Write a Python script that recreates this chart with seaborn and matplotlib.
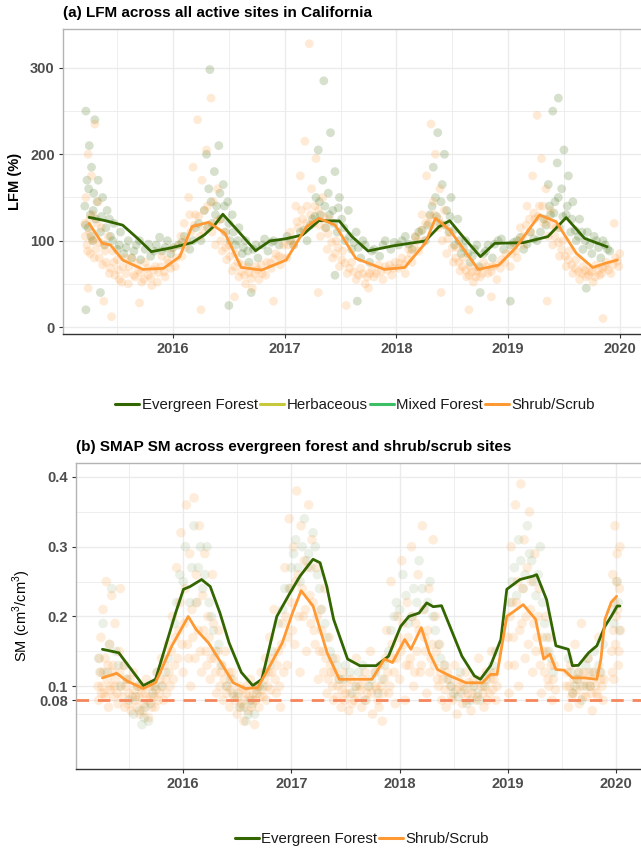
import numpy as np
import pandas as pd
import matplotlib
matplotlib.use("Agg")
import matplotlib.pyplot as plt
from matplotlib.lines import Line2D
from matplotlib.ticker import FixedLocator
import seaborn as sns

# ---------------- data ----------------
lfm_ticks = [0, 100, 200, 300]
year_ticks = [2016, 2017, 2018, 2019, 2020]
sm_ticks = [0.08, 0.1, 0.2, 0.3, 0.4]
sm_tick_labels = ["0.08", "0.1", "0.2", "0.3", "0.4"]
sm_threshold = 0.08

lfm_categories = ["Evergreen Forest", "Herbaceous", "Mixed Forest", "Shrub/Scrub"]
sm_categories = ["Evergreen Forest", "Shrub/Scrub"]

# smoothed LFM lines (panel a)
lfm_evergreen_t = [2015.249, 2015.40, 2015.549, 2015.68, 2015.806, 2015.99, 2016.17, 2016.28, 2016.36,
                   2016.446, 2016.574, 2016.739, 2016.867, 2017.0, 2017.159, 2017.306, 2017.489, 2017.60,
                   2017.746, 2017.965, 2018.258, 2018.38, 2018.477, 2018.60, 2018.752, 2018.88, 2019.136,
                   2019.356, 2019.44, 2019.52, 2019.685, 2019.886]
lfm_evergreen_v = [127, 123, 118, 103, 87.3, 91.9, 97.7, 106.6, 116, 130.6, 112.4, 88.4, 99.7, 102,
                   106.6, 123.2, 122.8, 105, 88.1, 93.9, 99.7, 116, 123.2, 104, 81.5, 96.9, 97.7,
                   104.7, 116, 126.7, 102.7, 93]
lfm_shrub_t = [2015.249, 2015.366, 2015.44, 2015.55, 2015.73, 2015.915, 2016.06, 2016.17, 2016.318,
               2016.465, 2016.61, 2016.794, 2017.013, 2017.196, 2017.306, 2017.452, 2017.636, 2017.892,
               2018.074, 2018.258, 2018.35, 2018.477, 2018.733, 2018.917, 2019.063, 2019.282, 2019.43,
               2019.611, 2019.758, 2019.868, 2019.978]
lfm_shrub_v = [120, 97, 95, 77.6, 66.8, 68, 81.5, 116.3, 121.3, 108.5, 69.1, 66, 77.6, 116.3, 125.9,
               118, 79.6, 66.8, 69, 97, 125.9, 112.4, 66.8, 71.8, 91, 129.8, 122, 85.4, 69, 73.8, 77.6]

# smoothed SMAP SM lines (panel b)
sm_evergreen_t = [2015.254, 2015.405, 2015.632, 2015.745, 2015.93, 2016.003, 2016.065, 2016.17, 2016.25,
                  2016.34, 2016.425, 2016.537, 2016.643, 2016.727, 2016.865, 2016.988, 2017.08, 2017.2,
                  2017.265, 2017.327, 2017.39, 2017.519, 2017.632, 2017.783, 2017.897, 2018.01, 2018.085,
                  2018.18, 2018.25, 2018.311, 2018.387, 2018.576, 2018.69, 2018.746, 2018.84, 2018.935,
                  2018.99, 2019.112, 2019.235, 2019.266, 2019.358, 2019.444, 2019.558, 2019.596, 2019.652,
                  2019.746, 2019.822, 2019.897, 2019.954, 2020.01, 2020.035]
sm_evergreen_v = [0.153, 0.148, 0.101, 0.110, 0.205, 0.239, 0.243, 0.253, 0.243, 0.205, 0.162, 0.120,
                  0.101, 0.110, 0.200, 0.234, 0.258, 0.282, 0.277, 0.243, 0.196, 0.139, 0.1295, 0.1295,
                  0.143, 0.186, 0.200, 0.205, 0.2195, 0.214, 0.2155, 0.143, 0.115, 0.110, 0.1295, 0.167,
                  0.239, 0.253, 0.258, 0.260, 0.224, 0.158, 0.153, 0.1295, 0.130, 0.148, 0.158, 0.186,
                  0.200, 0.215, 0.215]
sm_shrub_t = [2015.254, 2015.386, 2015.48, 2015.632, 2015.745, 2015.896, 2016.047, 2016.122, 2016.235,
              2016.349, 2016.462, 2016.575, 2016.689, 2016.8, 2016.915, 2017.01, 2017.09, 2017.2,
              2017.33, 2017.443, 2017.595, 2017.745, 2017.859, 2017.934, 2018.047, 2018.104, 2018.2,
              2018.274, 2018.35, 2018.463, 2018.613, 2018.765, 2018.84, 2018.90, 2018.99, 2019.142,
              2019.256, 2019.331, 2019.388, 2019.444, 2019.52, 2019.596, 2019.708, 2019.822, 2019.86,
              2019.897, 2019.954, 2020.005]
sm_shrub_v = [0.112, 0.1186, 0.1076, 0.0967, 0.1052, 0.158, 0.200, 0.181, 0.162, 0.134, 0.105, 0.0967,
              0.098, 0.129, 0.162, 0.205, 0.237, 0.215, 0.148, 0.110, 0.110, 0.110, 0.139, 0.134, 0.167,
              0.153, 0.184, 0.148, 0.124, 0.115, 0.105, 0.105, 0.117, 0.117, 0.200, 0.217, 0.196, 0.139,
              0.146, 0.124, 0.123, 0.112, 0.112, 0.110, 0.139, 0.196, 0.220, 0.229]

# individual site observations (panel a)
lfm_shrub_pts = [
    (2015.21,120),(2015.22,150),(2015.23,95),(2015.24,200),(2015.25,110),(2015.26,85),(2015.27,175),
    (2015.28,130),(2015.29,100),(2015.30,235),(2015.31,90),(2015.33,145),(2015.34,80),(2015.36,115),
    (2015.38,95),(2015.40,75),(2015.42,105),(2015.44,68),(2015.46,88),(2015.48,60),(2015.50,78),
    (2015.52,55),(2015.55,70),(2015.58,62),(2015.60,50),(2015.63,80),(2015.66,58),(2015.69,66),
    (2015.72,52),(2015.75,75),(2015.78,60),(2015.81,48),(2015.84,70),(2015.87,63),(2015.90,82),
    (2015.93,58),(2015.96,74),(2015.99,90),(2015.24,45),(2015.38,30),(2015.45,12),(2015.70,28),
    (2016.02,70),(2016.05,95),(2016.08,82),(2016.10,120),(2016.12,100),(2016.14,150),(2016.16,110),
    (2016.18,185),(2016.20,130),(2016.22,240),(2016.24,105),(2016.26,170),(2016.28,135),(2016.30,205),
    (2016.32,118),(2016.34,265),(2016.36,145),(2016.38,95),(2016.40,160),(2016.42,125),(2016.44,88),
    (2016.46,110),(2016.48,78),(2016.50,95),(2016.53,65),(2016.56,85),(2016.59,58),(2016.62,72),
    (2016.65,50),(2016.68,63),(2016.71,45),(2016.74,70),(2016.77,55),(2016.80,62),(2016.84,75),
    (2016.88,68),(2016.92,85),(2016.96,72),(2016.99,95),(2016.25,20),(2016.55,35),(2016.90,30),
    (2017.02,80),(2017.05,110),(2017.08,95),(2017.10,140),(2017.12,115),(2017.14,175),(2017.16,125),
    (2017.18,215),(2017.20,140),(2017.22,328),(2017.24,160),(2017.26,120),(2017.28,195),(2017.30,135),
    (2017.32,105),(2017.34,150),(2017.36,115),(2017.38,90),(2017.40,125),(2017.43,80),(2017.46,100),
    (2017.49,70),(2017.52,88),(2017.56,62),(2017.60,75),(2017.64,55),(2017.68,68),(2017.72,50),
    (2017.76,62),(2017.80,58),(2017.84,72),(2017.88,55),(2017.92,66),(2017.96,60),(2017.99,75),
    (2017.30,40),(2017.55,25),(2017.75,45),
    (2018.02,68),(2018.05,80),(2018.08,62),(2018.11,90),(2018.14,75),(2018.17,105),(2018.20,88),
    (2018.23,130),(2018.25,100),(2018.27,175),(2018.29,120),(2018.31,235),(2018.33,145),(2018.35,200),
    (2018.37,115),(2018.39,160),(2018.41,100),(2018.43,135),(2018.45,85),(2018.48,110),(2018.51,75),
    (2018.54,92),(2018.57,65),(2018.60,80),(2018.63,58),(2018.66,70),(2018.69,52),(2018.72,65),
    (2018.75,58),(2018.78,75),(2018.82,62),(2018.86,70),(2018.90,55),(2018.94,78),(2018.98,85),
    (2018.40,40),(2018.65,20),(2018.85,35),
    (2019.02,70),(2019.05,95),(2019.08,80),(2019.11,115),(2019.14,95),(2019.17,140),(2019.20,110),
    (2019.22,175),(2019.24,125),(2019.26,245),(2019.28,140),(2019.30,195),(2019.32,120),(2019.34,160),
    (2019.36,105),(2019.38,135),(2019.40,95),(2019.43,115),(2019.46,82),(2019.49,100),(2019.52,70),
    (2019.55,88),(2019.58,62),(2019.61,78),(2019.64,55),(2019.67,70),(2019.70,58),(2019.73,65),
    (2019.76,52),(2019.79,72),(2019.82,60),(2019.85,68),(2019.88,75),(2019.92,62),(2019.96,80),
    (2019.99,70),(2020.00,85),(2019.35,30),(2019.85,10),(2019.95,120),
]
lfm_shrub_band_pts = [
    (2015.215,105),(2015.235,88),(2015.255,125),(2015.275,102),(2015.295,80),(2015.32,120),(2015.345,98),
    (2015.37,72),(2015.39,88),(2015.43,62),(2015.47,75),(2015.51,66),(2015.54,52),(2015.57,80),
    (2015.61,70),(2015.65,60),(2015.68,74),(2015.71,63),(2015.74,55),(2015.77,68),(2015.80,57),
    (2015.83,66),(2015.86,52),(2015.89,70),(2015.92,64),(2015.95,78),(2015.98,68),
    (2016.03,80),(2016.07,105),(2016.11,92),(2016.15,130),(2016.19,118),(2016.23,128),(2016.27,112),
    (2016.31,140),(2016.35,110),(2016.39,122),(2016.43,100),(2016.47,92),(2016.51,82),(2016.55,70),
    (2016.58,75),(2016.61,64),(2016.64,60),(2016.67,70),(2016.70,56),(2016.73,62),(2016.76,66),
    (2016.79,72),(2016.83,60),(2016.87,74),(2016.91,78),(2016.95,82),(2016.98,80),
    (2017.03,95),(2017.07,100),(2017.11,122),(2017.15,135),(2017.19,120),(2017.23,130),(2017.27,140),
    (2017.31,118),(2017.35,128),(2017.39,108),(2017.42,98),(2017.45,85),(2017.48,92),(2017.51,78),
    (2017.54,74),(2017.58,68),(2017.62,64),(2017.66,60),(2017.70,62),(2017.74,58),(2017.78,66),
    (2017.82,62),(2017.86,64),(2017.90,70),(2017.94,72),(2017.97,68),
    (2018.03,74),(2018.07,72),(2018.10,78),(2018.13,85),(2018.16,92),(2018.19,100),(2018.22,112),
    (2018.26,120),(2018.30,128),(2018.34,130),(2018.38,125),(2018.42,118),(2018.46,102),(2018.50,92),
    (2018.53,80),(2018.56,75),(2018.59,70),(2018.62,66),(2018.65,60),(2018.68,64),(2018.71,58),
    (2018.74,68),(2018.77,62),(2018.81,70),(2018.85,64),(2018.89,72),(2018.93,68),(2018.97,75),
    (2019.03,85),(2019.07,88),(2019.10,100),(2019.13,105),(2019.16,118),(2019.19,125),(2019.23,132),
    (2019.27,128),(2019.31,140),(2019.35,125),(2019.39,118),(2019.42,105),(2019.45,98),(2019.48,90),
    (2019.51,82),(2019.54,78),(2019.57,72),(2019.60,68),(2019.63,64),(2019.66,62),(2019.69,66),
    (2019.72,60),(2019.75,64),(2019.78,58),(2019.81,66),(2019.84,62),(2019.87,70),(2019.90,66),
    (2019.94,72),(2019.98,76),
]
lfm_evergreen_pts = [
    (2015.21,140),(2015.22,250),(2015.23,170),(2015.24,115),(2015.25,210),(2015.26,130),(2015.27,185),
    (2015.28,100),(2015.29,155),(2015.30,240),(2015.31,125),(2015.33,170),(2015.35,110),(2015.37,150),
    (2015.39,95),(2015.41,135),(2015.44,105),(2015.47,120),(2015.50,90),(2015.53,110),(2015.56,85),
    (2015.60,100),(2015.63,80),(2015.67,95),(2015.71,78),(2015.75,90),(2015.80,82),(2015.85,95),
    (2015.90,88),(2015.95,100),(2016.00,92),(2015.22,20),(2015.35,40),
    (2016.05,95),(2016.10,105),(2016.15,90),(2016.20,115),(2016.25,100),(2016.28,135),(2016.30,200),
    (2016.32,160),(2016.33,298),(2016.35,120),(2016.37,180),(2016.39,140),(2016.41,210),(2016.43,125),
    (2016.45,165),(2016.47,110),(2016.49,145),(2016.51,100),(2016.53,130),(2016.56,95),(2016.59,115),
    (2016.62,85),(2016.65,100),(2016.68,75),(2016.72,90),(2016.76,80),(2016.80,95),(2016.85,88),
    (2016.90,100),(2016.95,95),(2016.70,40),(2016.50,25),
    (2017.02,105),(2017.08,95),(2017.14,110),(2017.20,100),(2017.25,125),(2017.28,150),(2017.30,205),
    (2017.32,130),(2017.34,170),(2017.35,285),(2017.37,115),(2017.39,155),(2017.41,225),(2017.43,135),
    (2017.45,180),(2017.47,110),(2017.49,150),(2017.51,125),(2017.54,100),(2017.57,135),(2017.60,90),
    (2017.64,110),(2017.68,80),(2017.72,95),(2017.76,75),(2017.80,90),(2017.85,82),(2017.90,100),
    (2017.95,90),(2017.65,30),(2017.45,60),
    (2018.02,95),(2018.08,105),(2018.14,90),(2018.20,110),(2018.26,100),(2018.30,130),(2018.33,185),
    (2018.35,150),(2018.37,225),(2018.39,120),(2018.41,165),(2018.43,200),(2018.45,135),(2018.47,110),
    (2018.49,150),(2018.52,95),(2018.55,125),(2018.58,85),(2018.62,100),(2018.66,75),(2018.70,90),
    (2018.74,70),(2018.78,85),(2018.82,95),(2018.86,80),(2018.91,100),(2018.96,90),(2018.75,40),
    (2019.02,30),
    (2019.02,95),(2019.08,100),(2019.14,90),(2019.20,110),(2019.26,100),(2019.32,125),(2019.36,165),
    (2019.38,130),(2019.40,250),(2019.42,145),(2019.44,190),(2019.46,115),(2019.48,160),(2019.50,205),
    (2019.52,130),(2019.54,175),(2019.56,110),(2019.58,145),(2019.61,100),(2019.64,125),(2019.67,90),
    (2019.71,110),(2019.75,85),(2019.79,100),(2019.83,80),(2019.87,95),(2019.91,88),(2019.45,265),
    (2019.70,45),
]
lfm_evergreen_band_pts = [
    (2015.215,118),(2015.245,160),(2015.265,105),(2015.285,135),(2015.32,145),(2015.36,128),(2015.40,115),
    (2015.43,125),(2015.46,100),(2015.52,95),(2015.58,92),(2015.65,88),(2015.70,100),(2015.78,96),
    (2015.83,88),(2015.88,104),(2015.93,92),(2015.98,85),
    (2016.08,98),(2016.18,100),(2016.23,120),(2016.31,115),(2016.34,145),(2016.38,130),(2016.42,155),
    (2016.46,140),(2016.50,120),(2016.54,110),(2016.58,100),(2016.63,92),(2016.67,88),(2016.74,95),
    (2016.82,102),(2016.88,98),
    (2017.05,100),(2017.17,112),(2017.23,118),(2017.27,128),(2017.31,145),(2017.36,140),(2017.40,130),
    (2017.44,120),(2017.48,138),(2017.53,115),(2017.58,105),(2017.62,98),(2017.66,92),(2017.70,100),
    (2017.78,88),(2017.88,95),(2017.98,98),
    (2018.05,100),(2018.11,96),(2018.17,104),(2018.23,112),(2018.28,118),(2018.32,140),(2018.36,128),
    (2018.40,145),(2018.44,118),(2018.48,128),(2018.51,112),(2018.56,100),(2018.60,92),(2018.64,85),
    (2018.68,82),(2018.72,95),(2018.80,88),(2018.88,96),(2018.94,102),
    (2019.05,98),(2019.11,104),(2019.17,96),(2019.23,102),(2019.29,110),(2019.34,118),(2019.37,140),
    (2019.41,132),(2019.45,150),(2019.49,128),(2019.53,140),(2019.57,125),(2019.60,112),(2019.63,105),
    (2019.66,110),(2019.69,100),(2019.73,95),(2019.77,105),(2019.81,92),(2019.85,100),(2019.89,90),
]

# individual site observations (panel b)
sm_shrub_pts = [
    (2015.22,0.08),(2015.23,0.12),(2015.24,0.17),(2015.25,0.10),(2015.26,0.21),(2015.27,0.09),
    (2015.28,0.14),(2015.29,0.25),(2015.30,0.11),(2015.31,0.07),(2015.32,0.16),(2015.33,0.10),
    (2015.34,0.23),(2015.35,0.13),(2015.36,0.085),(2015.37,0.19),(2015.38,0.11),(2015.40,0.075),
    (2015.41,0.15),(2015.42,0.24),(2015.43,0.10),(2015.45,0.13),(2015.46,0.07),(2015.48,0.11),
    (2015.50,0.09),(2015.52,0.065),(2015.54,0.12),(2015.56,0.08),(2015.58,0.10),(2015.60,0.06),
    (2015.62,0.09),(2015.64,0.075),(2015.66,0.11),(2015.68,0.055),(2015.70,0.085),(2015.72,0.10),
    (2015.74,0.07),(2015.76,0.12),(2015.78,0.09),(2015.80,0.14),(2015.82,0.08),(2015.84,0.11),
    (2015.86,0.16),(2015.88,0.10),(2015.90,0.20),(2015.92,0.13),(2015.94,0.27),(2015.96,0.18),
    (2015.98,0.32),
    (2016.00,0.12),(2016.02,0.24),(2016.03,0.36),(2016.04,0.16),(2016.06,0.29),(2016.07,0.10),
    (2016.08,0.21),(2016.10,0.37),(2016.11,0.14),(2016.12,0.26),(2016.14,0.18),(2016.15,0.33),
    (2016.17,0.12),(2016.18,0.23),(2016.20,0.29),(2016.21,0.15),(2016.23,0.20),(2016.25,0.11),
    (2016.27,0.26),(2016.29,0.14),(2016.31,0.09),(2016.33,0.18),(2016.35,0.12),(2016.37,0.08),
    (2016.39,0.15),(2016.41,0.10),(2016.43,0.07),(2016.45,0.12),(2016.47,0.085),(2016.50,0.06),
    (2016.52,0.10),(2016.54,0.075),(2016.56,0.05),(2016.58,0.09),(2016.60,0.065),(2016.62,0.11),
    (2016.64,0.08),(2016.66,0.045),(2016.68,0.095),(2016.70,0.07),(2016.72,0.12),(2016.74,0.085),
    (2016.76,0.14),(2016.78,0.10),(2016.80,0.17),(2016.82,0.12),(2016.84,0.21),(2016.86,0.09),
    (2016.88,0.15),(2016.90,0.07),(2016.92,0.19),(2016.94,0.27),(2016.96,0.13),(2016.98,0.34),
    (2017.00,0.22),(2017.02,0.30),(2017.03,0.16),(2017.05,0.38),(2017.06,0.26),(2017.08,0.12),
    (2017.09,0.33),(2017.11,0.20),(2017.12,0.28),(2017.14,0.15),(2017.16,0.36),(2017.17,0.23),
    (2017.19,0.31),(2017.21,0.18),(2017.23,0.27),(2017.25,0.11),(2017.27,0.21),(2017.29,0.15),
    (2017.31,0.24),(2017.33,0.09),(2017.35,0.17),(2017.37,0.12),(2017.39,0.08),(2017.41,0.14),
    (2017.43,0.10),(2017.46,0.07),(2017.48,0.12),(2017.50,0.09),(2017.53,0.065),(2017.55,0.11),
    (2017.58,0.08),(2017.60,0.14),(2017.63,0.10),(2017.65,0.07),(2017.68,0.12),(2017.70,0.09),
    (2017.73,0.15),(2017.75,0.06),(2017.78,0.10),(2017.80,0.08),(2017.82,0.13),(2017.84,0.05),
    (2017.86,0.11),(2017.88,0.18),(2017.90,0.09),(2017.92,0.25),(2017.94,0.14),(2017.96,0.075),
    (2017.98,0.20),
    (2018.00,0.11),(2018.02,0.28),(2018.04,0.16),(2018.05,0.08),(2018.07,0.22),(2018.09,0.13),
    (2018.11,0.30),(2018.13,0.10),(2018.15,0.19),(2018.17,0.26),(2018.19,0.12),(2018.21,0.33),
    (2018.23,0.17),(2018.25,0.09),(2018.27,0.24),(2018.29,0.14),(2018.31,0.31),(2018.33,0.20),
    (2018.35,0.11),(2018.37,0.16),(2018.39,0.08),(2018.41,0.13),(2018.43,0.07),(2018.46,0.11),
    (2018.48,0.085),(2018.51,0.13),(2018.53,0.06),(2018.56,0.10),(2018.58,0.075),(2018.61,0.12),
    (2018.63,0.09),(2018.66,0.065),(2018.68,0.11),(2018.71,0.08),(2018.73,0.14),(2018.76,0.10),
    (2018.78,0.07),(2018.80,0.12),(2018.83,0.09),(2018.85,0.15),(2018.87,0.11),(2018.89,0.08),
    (2019.00,0.17),(2019.01,0.09),(2019.03,0.30),(2019.04,0.22),(2019.06,0.13),(2019.07,0.36),
    (2019.09,0.25),(2019.10,0.10),(2019.12,0.39),(2019.13,0.19),(2019.15,0.31),(2019.16,0.14),
    (2019.18,0.27),(2019.20,0.35),(2019.21,0.21),(2019.23,0.12),(2019.25,0.29),(2019.27,0.17),
    (2019.29,0.24),(2019.31,0.09),(2019.33,0.15),(2019.35,0.20),(2019.37,0.11),(2019.39,0.17),
    (2019.41,0.08),(2019.43,0.13),(2019.54,0.10),(2019.56,0.07),(2019.58,0.13),(2019.60,0.09),
    (2019.62,0.16),(2019.64,0.11),(2019.66,0.075),(2019.68,0.19),(2019.70,0.12),(2019.72,0.085),
    (2019.74,0.14),(2019.76,0.10),(2019.78,0.065),(2019.80,0.12),(2019.82,0.09),(2019.84,0.17),
    (2019.86,0.11),(2019.88,0.08),(2019.96,0.15),(2019.97,0.26),(2019.98,0.11),(2019.99,0.33),
    (2020.00,0.20),(2020.01,0.29),(2020.02,0.13),(2020.03,0.24),(2020.04,0.18),
]
sm_shrub_band_pts = [
    (2015.215,0.10),(2015.225,0.14),(2015.245,0.09),(2015.265,0.12),(2015.285,0.085),(2015.305,0.13),
    (2015.325,0.095),(2015.345,0.12),(2015.365,0.10),(2015.39,0.09),(2015.415,0.12),(2015.44,0.085),
    (2015.47,0.10),(2015.49,0.075),(2015.51,0.11),(2015.53,0.085),(2015.55,0.095),(2015.57,0.07),
    (2015.59,0.085),(2015.61,0.10),(2015.63,0.065),(2015.65,0.09),(2015.67,0.08),(2015.69,0.10),
    (2015.71,0.07),(2015.73,0.085),(2015.75,0.095),(2015.77,0.08),(2015.79,0.11),(2015.81,0.10),
    (2015.83,0.13),(2015.85,0.09),(2015.87,0.12),(2015.89,0.15),(2015.91,0.11),(2015.93,0.17),
    (2015.95,0.14),(2015.97,0.22),(2015.99,0.16),
    (2016.01,0.19),(2016.05,0.14),(2016.09,0.17),(2016.13,0.22),(2016.16,0.15),(2016.19,0.18),
    (2016.22,0.13),(2016.24,0.17),(2016.26,0.14),(2016.28,0.19),(2016.30,0.12),(2016.32,0.15),
    (2016.34,0.10),(2016.36,0.13),(2016.38,0.11),(2016.40,0.09),(2016.42,0.12),(2016.44,0.095),
    (2016.46,0.11),(2016.48,0.08),(2016.51,0.09),(2016.53,0.07),(2016.55,0.095),(2016.57,0.08),
    (2016.59,0.10),(2016.61,0.085),(2016.63,0.07),(2016.65,0.09),(2016.67,0.08),(2016.69,0.10),
    (2016.71,0.085),(2016.73,0.095),(2016.75,0.11),(2016.77,0.08),(2016.79,0.12),(2016.81,0.095),
    (2016.83,0.14),(2016.85,0.11),(2016.87,0.13),(2016.89,0.10),(2016.91,0.16),(2016.93,0.12),
    (2016.95,0.20),(2016.97,0.17),(2016.99,0.24),
    (2017.01,0.18),(2017.04,0.25),(2017.07,0.20),(2017.10,0.24),(2017.13,0.21),(2017.15,0.27),
    (2017.18,0.19),(2017.20,0.22),(2017.22,0.16),(2017.24,0.20),(2017.26,0.15),(2017.28,0.18),
    (2017.30,0.12),(2017.32,0.14),(2017.34,0.11),(2017.36,0.13),(2017.38,0.10),(2017.40,0.12),
    (2017.42,0.085),(2017.44,0.11),(2017.47,0.095),(2017.49,0.08),(2017.51,0.105),(2017.54,0.09),
    (2017.56,0.075),(2017.59,0.10),(2017.61,0.085),(2017.64,0.095),(2017.66,0.11),(2017.69,0.08),
    (2017.71,0.10),(2017.74,0.09),(2017.77,0.12),(2017.79,0.095),(2017.81,0.07),(2017.83,0.10),
    (2017.85,0.09),(2017.87,0.14),(2017.89,0.12),(2017.91,0.10),(2017.93,0.16),(2017.95,0.12),
    (2017.97,0.14),(2017.99,0.17),
    (2018.01,0.15),(2018.03,0.19),(2018.06,0.13),(2018.08,0.17),(2018.10,0.14),(2018.12,0.20),
    (2018.14,0.12),(2018.16,0.15),(2018.18,0.18),(2018.20,0.13),(2018.22,0.21),(2018.24,0.15),
    (2018.26,0.18),(2018.28,0.12),(2018.30,0.16),(2018.32,0.13),(2018.34,0.15),(2018.36,0.10),
    (2018.38,0.12),(2018.40,0.11),(2018.42,0.095),(2018.44,0.12),(2018.47,0.10),(2018.49,0.08),
    (2018.52,0.095),(2018.54,0.11),(2018.57,0.09),(2018.59,0.10),(2018.62,0.08),(2018.64,0.105),
    (2018.67,0.09),(2018.69,0.10),(2018.72,0.085),(2018.74,0.11),(2018.77,0.09),(2018.79,0.10),
    (2018.81,0.08),(2018.84,0.11),(2018.86,0.095),(2018.88,0.12),(2018.90,0.10),
    (2019.005,0.13),(2019.02,0.20),(2019.05,0.17),(2019.08,0.22),(2019.11,0.18),(2019.14,0.24),
    (2019.17,0.20),(2019.19,0.16),(2019.22,0.25),(2019.24,0.19),(2019.26,0.15),(2019.28,0.20),
    (2019.30,0.13),(2019.32,0.17),(2019.34,0.12),(2019.36,0.15),(2019.38,0.10),(2019.40,0.13),
    (2019.42,0.11),(2019.44,0.095),(2019.55,0.12),(2019.57,0.10),(2019.59,0.085),(2019.61,0.11),
    (2019.63,0.095),(2019.65,0.12),(2019.67,0.10),(2019.69,0.085),(2019.71,0.11),(2019.73,0.10),
    (2019.75,0.12),(2019.77,0.09),(2019.79,0.11),(2019.81,0.10),(2019.83,0.085),(2019.85,0.12),
    (2019.87,0.10),(2019.89,0.11),(2019.965,0.12),(2019.975,0.18),(2019.985,0.22),(2019.995,0.16),
    (2020.005,0.25),(2020.015,0.21),(2020.025,0.15),(2020.035,0.30),
]
sm_evergreen_pts = [
    (2015.22,0.14),(2015.26,0.19),(2015.30,0.12),(2015.34,0.24),(2015.38,0.15),(2015.42,0.10),
    (2015.46,0.13),(2015.50,0.08),(2015.54,0.06),(2015.58,0.10),(2015.62,0.045),(2015.65,0.07),
    (2015.68,0.05),(2015.72,0.09),(2015.76,0.12),(2015.80,0.10),(2015.86,0.14),(2015.92,0.19),
    (2015.97,0.26),(2016.02,0.30),(2016.06,0.22),(2016.10,0.33),(2016.14,0.27),(2016.18,0.24),
    (2016.22,0.30),(2016.26,0.20),(2016.30,0.15),(2016.35,0.13),(2016.40,0.10),(2016.46,0.09),
    (2016.52,0.07),(2016.58,0.05),(2016.62,0.08),(2016.66,0.06),(2016.70,0.10),(2016.76,0.12),
    (2016.82,0.15),(2016.88,0.19),(2016.94,0.24),(2017.00,0.27),(2017.04,0.31),(2017.08,0.25),
    (2017.12,0.34),(2017.16,0.29),(2017.20,0.32),(2017.24,0.26),(2017.28,0.21),(2017.33,0.17),
    (2017.38,0.14),(2017.44,0.11),(2017.50,0.13),(2017.56,0.09),(2017.62,0.12),(2017.68,0.08),
    (2017.74,0.11),(2017.80,0.09),(2017.86,0.13),(2017.92,0.18),(2017.97,0.22),(2018.03,0.26),
    (2018.08,0.19),(2018.13,0.24),(2018.18,0.28),(2018.23,0.21),(2018.28,0.25),(2018.33,0.18),
    (2018.38,0.14),(2018.44,0.11),(2018.50,0.09),(2018.56,0.12),(2018.62,0.075),(2018.68,0.10),
    (2018.74,0.08),(2018.80,0.11),(2018.86,0.13),(2019.02,0.22),(2019.06,0.27),(2019.10,0.31),
    (2019.14,0.24),(2019.18,0.33),(2019.22,0.28),(2019.26,0.23),(2019.30,0.30),(2019.34,0.19),
    (2019.38,0.15),(2019.42,0.12),(2019.56,0.14),(2019.60,0.09),(2019.64,0.11),(2019.68,0.08),
    (2019.72,0.13),(2019.76,0.10),(2019.80,0.15),(2019.86,0.12),(2019.97,0.21),(2020.01,0.25),
    (2020.03,0.18),
]
sm_evergreen_band_pts = [
    (2015.24,0.12),(2015.32,0.16),(2015.40,0.13),(2015.48,0.11),(2015.56,0.085),(2015.60,0.065),
    (2015.64,0.055),(2015.70,0.075),(2015.74,0.10),(2015.84,0.12),(2015.94,0.22),(2016.00,0.25),
    (2016.08,0.27),(2016.12,0.22),(2016.16,0.30),(2016.20,0.26),(2016.24,0.22),(2016.28,0.18),
    (2016.33,0.16),(2016.44,0.11),(2016.50,0.085),(2016.56,0.07),(2016.60,0.06),(2016.64,0.075),
    (2016.68,0.09),(2016.74,0.10),(2016.80,0.13),(2016.92,0.21),(2016.98,0.24),(2017.02,0.29),
    (2017.06,0.27),(2017.10,0.30),(2017.14,0.28),(2017.18,0.27),(2017.22,0.30),(2017.26,0.24),
    (2017.31,0.19),(2017.36,0.15),(2017.42,0.13),(2017.48,0.11),(2017.54,0.12),(2017.60,0.10),
    (2017.66,0.13),(2017.72,0.10),(2017.78,0.12),(2017.84,0.11),(2017.90,0.15),(2017.95,0.20),
    (2018.00,0.21),(2018.06,0.23),(2018.11,0.20),(2018.16,0.22),(2018.21,0.24),(2018.26,0.22),
    (2018.31,0.20),(2018.36,0.16),(2018.42,0.13),(2018.48,0.10),(2018.54,0.085),(2018.60,0.095),
    (2018.66,0.08),(2018.72,0.09),(2018.78,0.10),(2018.84,0.12),(2018.89,0.15),(2019.04,0.25),
    (2019.08,0.23),(2019.12,0.28),(2019.16,0.26),(2019.20,0.29),(2019.24,0.25),(2019.28,0.26),
    (2019.32,0.22),(2019.36,0.17),(2019.40,0.14),(2019.58,0.12),(2019.62,0.10),(2019.66,0.12),
    (2019.70,0.10),(2019.74,0.14),(2019.78,0.12),(2019.84,0.13),(2019.88,0.16),(2019.98,0.19),
    (2020.02,0.22),
]

# ---------------- styling ----------------
sns.set_theme(style="white")
plt.rcParams['font.family'] = ['Liberation Sans', 'DejaVu Sans']
plt.rcParams['mathtext.fontset'] = 'custom'
plt.rcParams['mathtext.rm'] = 'Liberation Sans'

palette = {
    "Evergreen Forest": "#336600",
    "Herbaceous": "#C8C83C",
    "Mixed Forest": "#3CBE64",
    "Shrub/Scrub": "#FF9933",
}
GRID = "#EBEBEB"
TICKC = "#4D4D4D"

fig = plt.figure(figsize=(6.41, 8.49), dpi=100)
ax1 = fig.add_axes([63/641, 1-334/849, 1-63/641, (334-29)/849])
ax2 = fig.add_axes([76/641, 1-769/849, 1-76/641, (769-463)/849])


def pts_df(pts, cat):
    return pd.DataFrame({"t": [p[0] for p in pts], "v": [p[1] for p in pts], "cat": cat})


def line_df(t, v, cat):
    return pd.DataFrame({"t": t, "v": v, "cat": cat})


def style_axes(ax, yminor):
    ax.set_facecolor("white")
    ax.xaxis.set_minor_locator(FixedLocator([2015.5, 2016.5, 2017.5, 2018.5, 2019.5]))
    ax.yaxis.set_minor_locator(FixedLocator(yminor))
    ax.grid(True, which="major", color=GRID, lw=1.0)
    ax.grid(True, which="minor", color=GRID, lw=0.6)
    ax.set_axisbelow(True)
    for s in ["top", "left"]:
        ax.spines[s].set_color("#B3B3B3")
        ax.spines[s].set_linewidth(1.0)
    ax.spines["right"].set_visible(False)
    ax.spines["bottom"].set_color("#333333")
    ax.spines["bottom"].set_linewidth(1.0)
    ax.tick_params(axis="both", which="major", length=3, width=0.8, color="#333333",
                   labelsize=10.5, labelcolor=TICKC, pad=3, bottom=True, left=True)
    ax.tick_params(axis="both", which="minor", length=0)
    for lab in ax.get_xticklabels() + ax.get_yticklabels():
        lab.set_fontweight("bold")


# ---------- panel (a) ----------
scat_a = pd.concat([pts_df(lfm_evergreen_pts + lfm_evergreen_band_pts, "Evergreen Forest"),
                    pts_df(lfm_shrub_pts + lfm_shrub_band_pts, "Shrub/Scrub")])
sns.scatterplot(data=scat_a, x="t", y="v", hue="cat", palette=palette, alpha=0.2, s=40,
                edgecolor="none", legend=False, ax=ax1)
lines_a = pd.concat([line_df(lfm_evergreen_t, lfm_evergreen_v, "Evergreen Forest"),
                     line_df(lfm_shrub_t, lfm_shrub_v, "Shrub/Scrub")])
sns.lineplot(data=lines_a, x="t", y="v", hue="cat", palette=palette, lw=2.0, legend=False,
             ax=ax1, estimator=None, sort=True)
ax1.set_xlim(2015.015, 2020.19)
ax1.set_ylim(-8, 345)
ax1.set_xticks(year_ticks)
ax1.set_xticklabels([str(y) for y in year_ticks])
ax1.set_yticks(lfm_ticks)
ax1.set_yticklabels([str(v) for v in lfm_ticks])
style_axes(ax1, [50, 150, 250])
ax1.set_xlabel("")
ax1.set_ylabel("LFM (%)", fontsize=10.5, fontweight="bold", color="black", labelpad=6)
ax1.set_title("(a) LFM across all active sites in California", loc="left", fontsize=11,
              fontweight="bold", color="black", pad=9)

h_a = [Line2D([0], [0], color=palette[c], lw=2.2) for c in lfm_categories]
fig.legend(h_a, lfm_categories, loc="center", bbox_to_anchor=(355/641, 1-405/849), ncol=4,
           frameon=False, fontsize=10.8, handlelength=1.6, handletextpad=0.15, columnspacing=0.15,
           labelcolor="#1A1A1A")

# ---------- panel (b) ----------
sns.scatterplot(data=pts_df(sm_shrub_pts + sm_shrub_band_pts, "Shrub/Scrub"), x="t", y="v",
                hue="cat", palette=palette, alpha=0.17, s=48, edgecolor="none", legend=False, ax=ax2)
sns.scatterplot(data=pts_df(sm_evergreen_pts + sm_evergreen_band_pts, "Evergreen Forest"), x="t", y="v",
                hue="cat", palette=palette, alpha=0.09, s=48, edgecolor="none", legend=False, ax=ax2)
lines_b = pd.concat([line_df(sm_evergreen_t, sm_evergreen_v, "Evergreen Forest"),
                     line_df(sm_shrub_t, sm_shrub_v, "Shrub/Scrub")])
sns.lineplot(data=lines_b, x="t", y="v", hue="cat", palette=palette, lw=2.0, legend=False,
             ax=ax2, estimator=None, sort=True)
ax2.axhline(sm_threshold, color="#F5855A", lw=2.0, ls=(0, (4.5, 3.2)), zorder=5)
ax2.set_xlim(2015.01, 2020.23)
ax2.set_ylim(-0.0186, 0.42)
ax2.set_xticks(year_ticks)
ax2.set_xticklabels([str(y) for y in year_ticks])
ax2.set_yticks(sm_ticks)
ax2.set_yticklabels(sm_tick_labels)
style_axes(ax2, [0.06, 0.09, 0.15, 0.25, 0.35])
ax2.set_xlabel("")
ax2.set_ylabel("SM (cm$^3$/cm$^3$)", fontsize=10.5, color="black", labelpad=4)
ax2.set_title("(b) SMAP SM across evergreen forest and shrub/scrub sites", loc="left",
              fontsize=11, fontweight="bold", color="black", pad=9)

h_b = [Line2D([0], [0], color=palette[c], lw=2.2) for c in sm_categories]
fig.legend(h_b, sm_categories, loc="center", bbox_to_anchor=(362/641, 1-839/849), ncol=2,
           frameon=False, fontsize=10.8, handlelength=1.6, handletextpad=0.15, columnspacing=0.15,
           labelcolor="#1A1A1A")

fig.savefig("out.png", dpi=100)
